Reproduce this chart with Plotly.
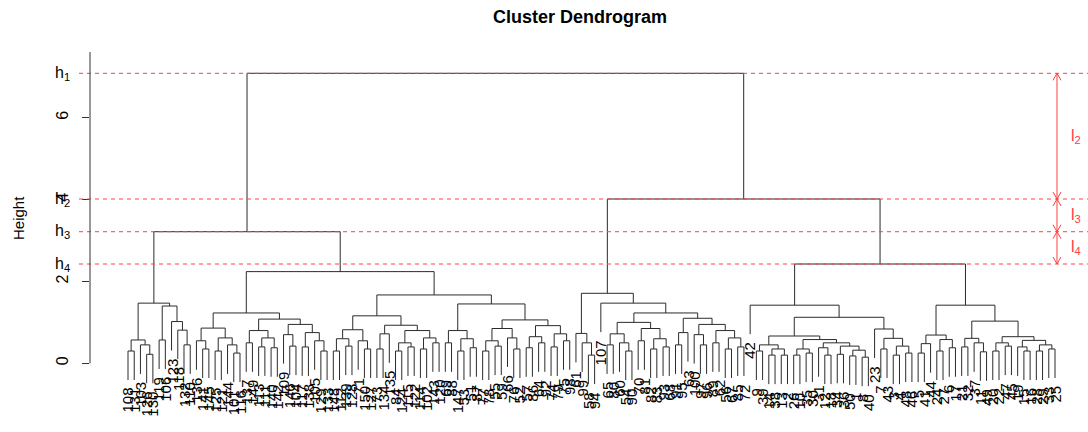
import plotly.graph_objects as go

# ---------------- data ----------------
TITLE = "Cluster Dendrogram"
Y_TITLE = "Height"
Y_TICKS = [0, 2, 4, 6]
H_NAMES = ["h<sub>1</sub>", "h<sub>2</sub>", "h<sub>3</sub>", "h<sub>4</sub>"]
L_NAMES = ["l<sub>2</sub>", "l<sub>3</sub>", "l<sub>4</sub>"]

# dendrogram nodes: [merge height, left, right]; leaves are labels
A = [1.47,
     [0.57, [0.30, "108", "131"], [0.45, "103", [0.22, "126", "130"]]],
     [1.40, [0.57, "119", "106"], [1.02, "123", [0.81, "118", [0.45, "132", "110"]]]]]
B1L = [0.86, [0.55, "136", [0.35, "141", "145"]],
       [0.62, [0.30, "125", "121"], [0.45, "144", [0.25, "101", "116"]]]]
B1R = [1.08,
       [0.80, [0.50, "137", "149"], [0.62, [0.40, "113", "111"], [0.38, "140", "142"]]],
       [0.95, [0.70, "109", [0.42, "146", "104"]],
        [0.75, [0.40, "117", "138"], [0.55, "105", [0.30, "129", "133"]]]]]
B2a = [1.16,
       [0.82, [0.60, [0.30, "148", "112"], [0.42, "139", "128"]], [0.55, "71", [0.35, "150", "127"]]],
       [0.93, [0.72, [0.35, "73", "134"], "135"],
        [0.80, [0.50, [0.30, "84", "124"], [0.40, "115", "122"]],
         [0.62, [0.35, "114", "102"], [0.50, "143", "120"]]]]]
B2b = [1.45,
       [0.80, [0.50, "69", "88"], [0.60, [0.30, "147", "53"], [0.38, "51", "87"]]],
       [1.06, [0.85, [0.55, [0.30, "77", "78"], [0.42, "55", "59"]], [0.62, "66", [0.35, "76", "52"]]],
        [0.92, [0.65, [0.38, "57", "86"], [0.50, "64", "92"]],
         [0.72, [0.40, "74", "79"], [0.55, "75", "98"]]]]]
C1 = [0.73, "61", [0.50, "99", [0.20, "58", "94"]]]
C2b_L = [1.00, [0.72, [0.45, "65", "80"], [0.50, "60", [0.30, "54", "90"]]],
         [0.85, [0.55, "70", "81"], [0.60, [0.35, "82", "83"], [0.40, "93", "68"]]]]
C2b_R = [1.10, [0.75, [0.45, "91", "95"], "63"],
         [0.95, [0.70, "100", [0.45, "97", "96"]],
          [0.80, [0.50, "89", "62"], [0.62, [0.35, "56", "67"], [0.40, "85", "72"]]]]]
S1bL = [0.667, [0.45, [0.30, "9", "39"], [0.35, [0.20, "14", "38"], [0.20, "13", "2"]]],
        [0.58, [0.35, [0.20, "26", "10"], [0.25, "35", "30"]],
         [0.50, [0.38, "31", [0.20, "12", "18"]],
          [0.42, [0.22, "34", "36"], [0.32, [0.18, "50", "1"], [0.15, "8", "40"]]]]]]
S1bR = [0.838, "23", [0.61, [0.35, "7", "43"], [0.42, [0.20, "3", "4"], [0.25, "48", "46"]]]]
S2a = [0.69, [0.48, [0.25, "5", "41"], "44"], [0.58, [0.30, "24", "27"], [0.38, "6", "17"]]]
S2bL = [0.61, [0.40, "21", "32"], [0.50, "37", [0.28, "11", "49"]]]
S2bR = [0.65, [0.50, [0.30, "20", "22"], [0.42, "47", "45"]],
        [0.56, [0.40, "19", [0.30, "15", "16"]], [0.45, [0.30, "28", "29"], [0.35, "33", "25"]]]]

B = [2.24, [1.23, B1L, B1R], [1.67, B2a, B2b]]
L = [3.215, A, B]
C = [1.71, C1, [1.47, "107", [1.23, C2b_L, C2b_R]]]
S = [2.426, [1.42, "42", [1.124, S1bL, S1bR]], [1.42, S2a, [1.03, S2bL, S2bR]]]
R = [4.014, C, S]
ROOT = [7.085, L, R]

# ---------------- layout geometry (pixels) ----------------
W, H = 1088, 432
PLOT_L = 90
X0_PX, DX_PX = 128.0, 6.2215     # first leaf pixel, leaf spacing
Y0_PX, DY_PX = 363.3, 40.93      # height 0 pixel, pixels per unit


def dx(px):
    return 1 + (px - X0_PX) / DX_PX


def dy(py):
    return (Y0_PX - py) / DY_PX


def paper_x(px):
    return (px - PLOT_L) / (W - PLOT_L)


HANG = 0.1 * ROOT[0]
seg_x, seg_y = [], []
leaves = []
counter = [0]


def walk(node):
    if isinstance(node, str):
        counter[0] += 1
        return counter[0], None
    h, l, r = node
    xs = []
    for ch in (l, r):
        cx, ch_h = walk(ch)
        bottom = ch_h if ch_h is not None else h - HANG
        if ch_h is None:
            leaves.append((cx, bottom, ch))
        seg_x.extend([cx, cx, None])
        seg_y.extend([bottom, h, None])
        xs.append(cx)
    seg_x.extend([xs[0], xs[1], None])
    seg_y.extend([h, h, None])
    return (xs[0] + xs[1]) / 2, h


walk(ROOT)

H_CUTS = [ROOT[0], R[0], L[0], S[0]]

FONT = "Liberation Sans, Arial, sans-serif"
RED = "#ff4040"

fig = go.Figure()
fig.add_trace(go.Scatter(x=seg_x, y=seg_y, mode="lines",
                         line=dict(color="#2b2b2b", width=1), hoverinfo="skip",
                         showlegend=False))

# arrows on the right
ax = dx(1057)
hw, hh = 4 / DX_PX, 7 / DY_PX
arr_x = [ax, ax, None]
arr_y = [H_CUTS[0], H_CUTS[3], None]
for i, hv in enumerate(H_CUTS):
    if i < 3:   # upward head at the top of each segment
        arr_x += [ax - hw, ax, ax + hw, None]
        arr_y += [hv - hh, hv, hv - hh, None]
    if i > 0:   # downward head at the bottom of each segment
        arr_x += [ax - hw, ax, ax + hw, None]
        arr_y += [hv + hh, hv, hv + hh, None]
fig.add_trace(go.Scatter(x=arr_x, y=arr_y, mode="lines",
                         line=dict(color=RED, width=1), hoverinfo="skip",
                         showlegend=False))

shapes = []
for hv in H_CUTS:
    shapes.append(dict(type="line", xref="paper", yref="y",
                       x0=paper_x(79), x1=1.0, y0=hv, y1=hv,
                       line=dict(color=RED, width=1, dash="4px,4px")))
# y axis line
shapes.append(dict(type="line", xref="paper", yref="y", x0=0, x1=0,
                   y0=0, y1=dy(52), line=dict(color="#333", width=1)))

annotations = []
for (x, yb, lab) in leaves:
    annotations.append(dict(x=x, y=yb, xref="x", yref="y", text=lab,
                            textangle=-90, xanchor="center", yanchor="top",
                            yshift=-6, showarrow=False,
                            font=dict(family=FONT, size=15, color="black")))
for name, hv in zip(H_NAMES, H_CUTS):
    annotations.append(dict(x=paper_x(72), y=hv, xref="paper", yref="y",
                            text=name, xanchor="right", yanchor="middle",
                            showarrow=False,
                            font=dict(family=FONT, size=16, color="black")))
for k, name in enumerate(L_NAMES):
    ym = (H_CUTS[k] + H_CUTS[k + 1]) / 2
    annotations.append(dict(x=dx(1069), y=ym, xref="x", yref="y",
                            text=name, xanchor="left", yanchor="middle",
                            showarrow=False,
                            font=dict(family=FONT, size=16, color=RED)))
annotations.append(dict(x=paper_x(18), y=1 - 218 / H, xref="paper", yref="paper",
                        text=Y_TITLE, textangle=-90, showarrow=False,
                        xanchor="center", yanchor="middle",
                        font=dict(family=FONT, size=15, color="black")))

fig.update_layout(
    width=W, height=H,
    margin=dict(l=PLOT_L, r=0, t=0, b=0),
    paper_bgcolor="white", plot_bgcolor="white",
    title=dict(text="<b>" + TITLE + "</b>", x=580 / W, xref="container",
               xanchor="center", y=1 - 17 / H, yref="container", yanchor="middle",
               font=dict(family=FONT, size=18, color="black")),
    xaxis=dict(range=[dx(PLOT_L), dx(W)], visible=False),
    yaxis=dict(range=[dy(H), dy(0)], showgrid=False, zeroline=False,
               showline=False, tickvals=Y_TICKS, ticks="outside", ticklen=7,
               tickcolor="#333", tickangle=-90, ticklabelstandoff=8,
               tickfont=dict(family=FONT, size=16, color="black")),
    shapes=shapes, annotations=annotations, showlegend=False,
)

fig.write_html("out.html", config={"displayModeBar": False},
               post_script="document.body.style.margin='0';"
                           "document.body.style.overflow='hidden';")
